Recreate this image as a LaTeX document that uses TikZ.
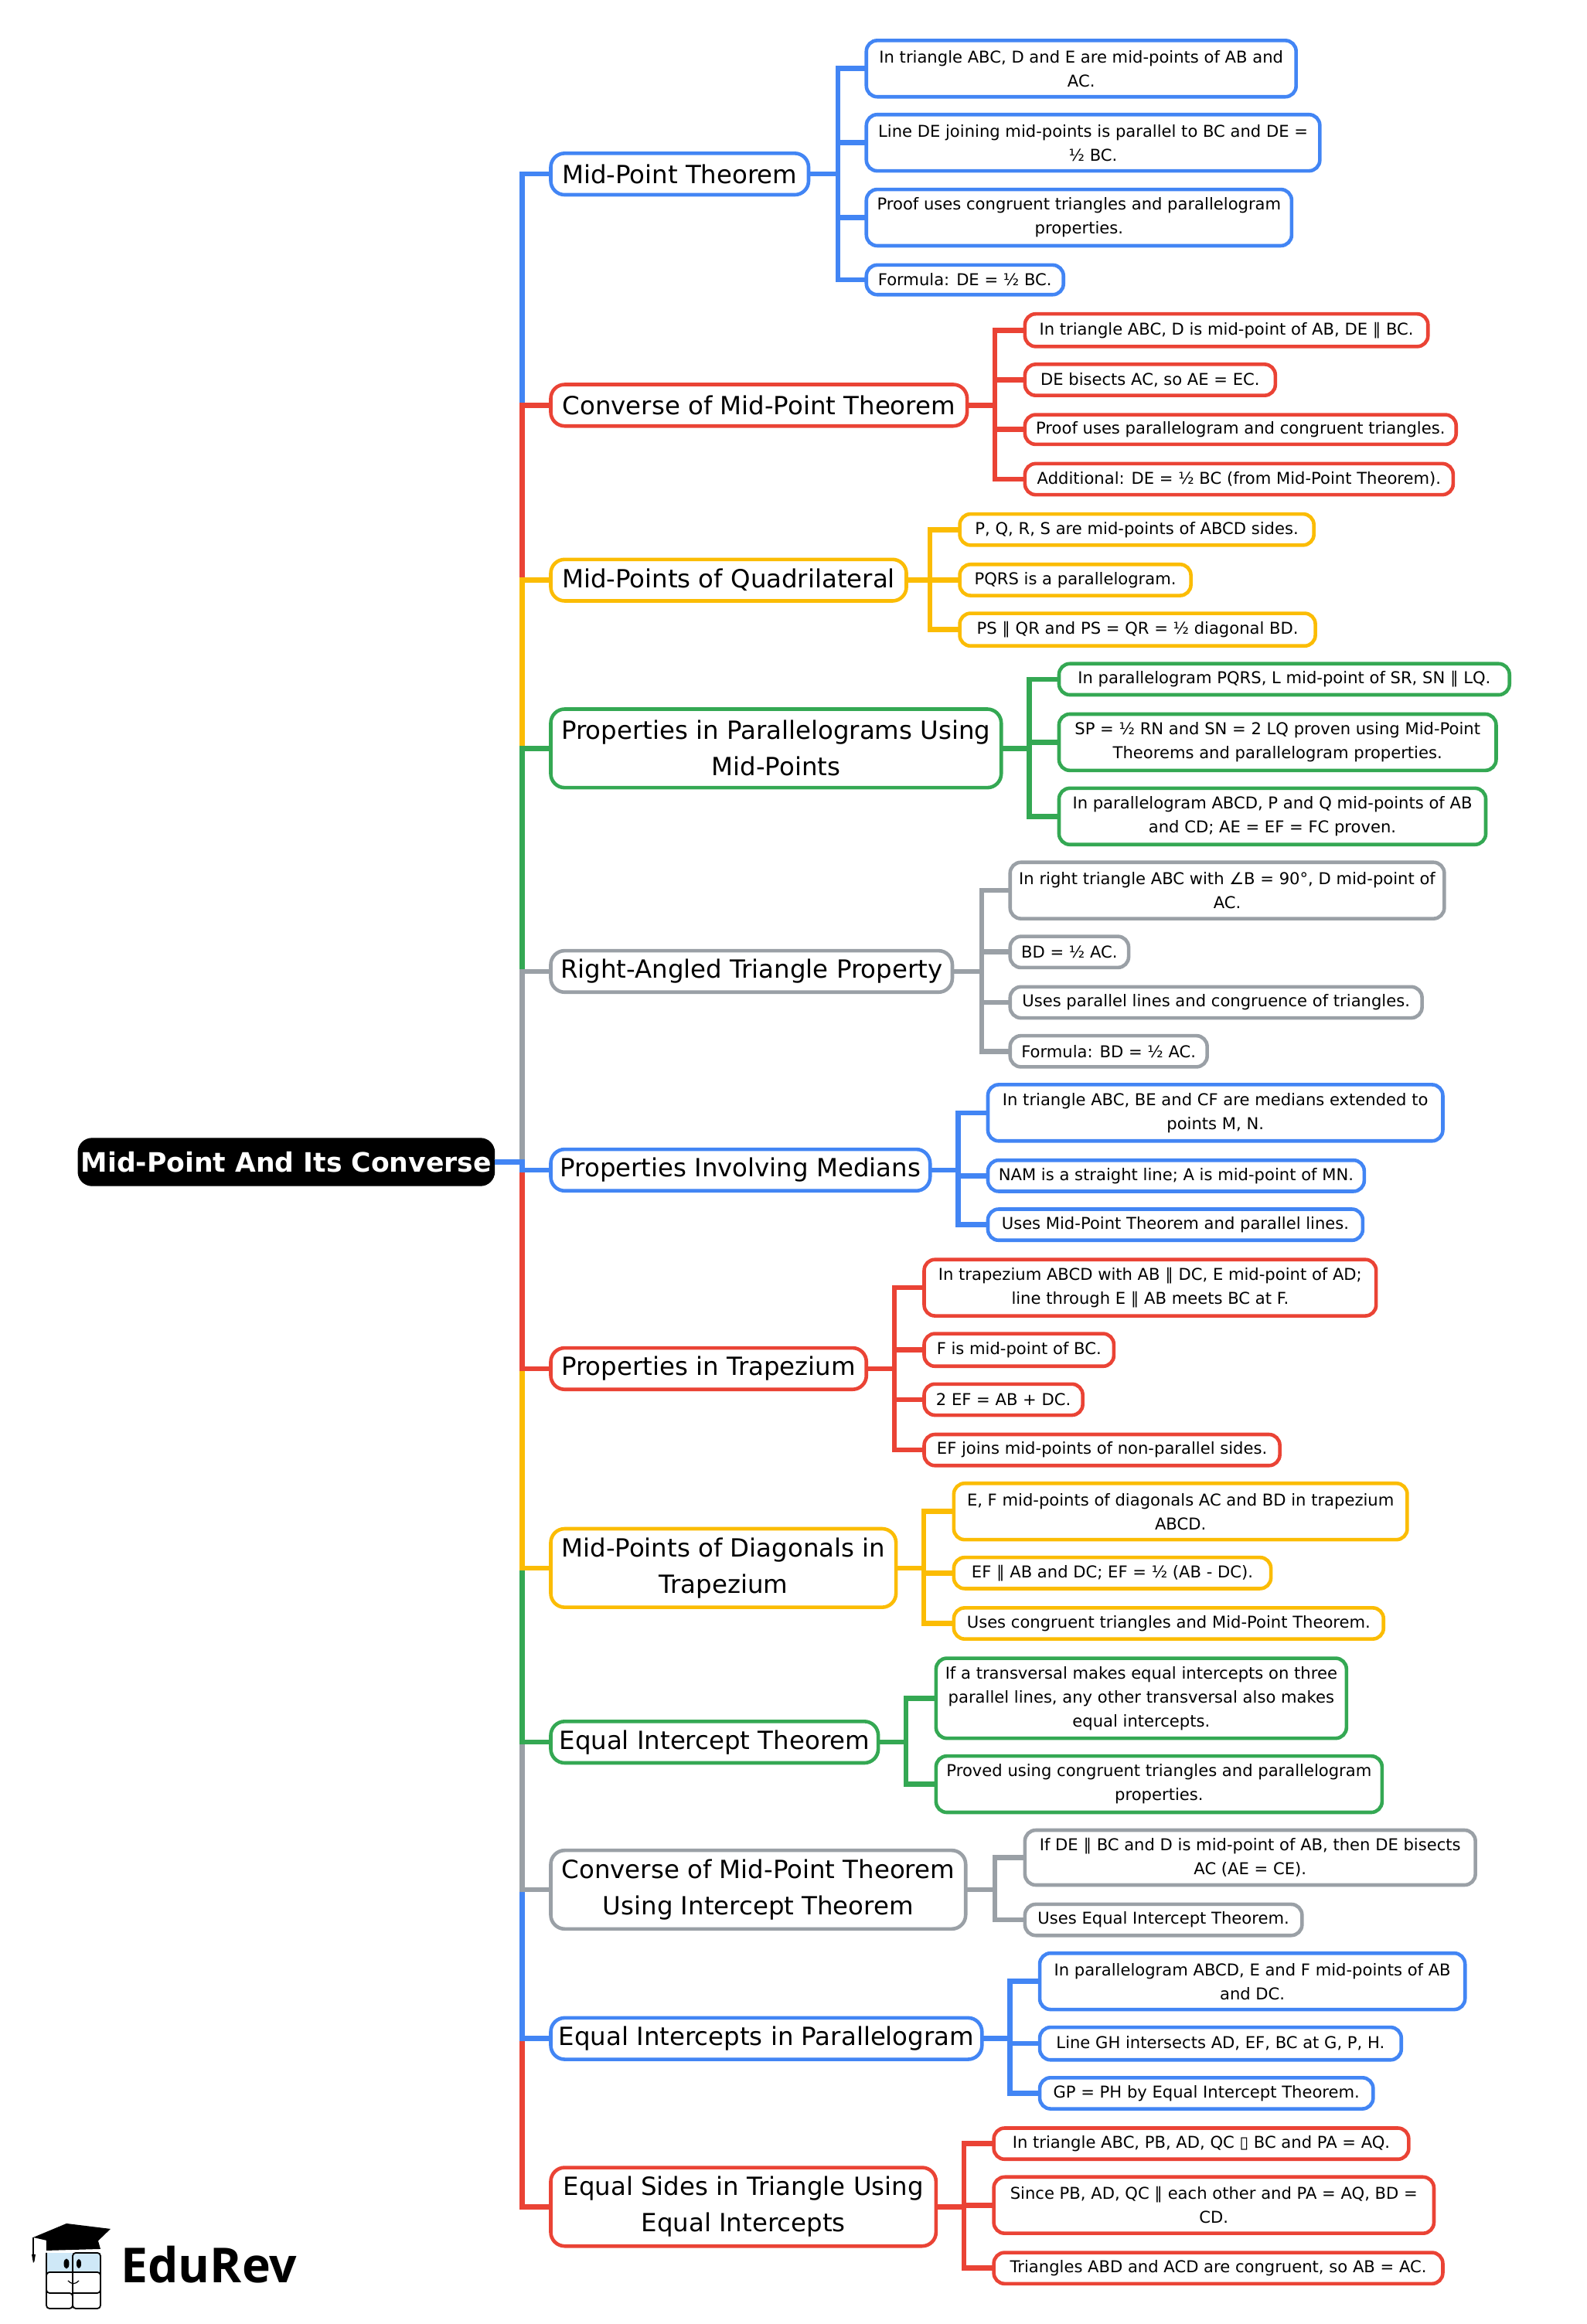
\documentclass[tikz,border=0pt]{standalone}
\usepackage{fontspec}
\setmainfont{DejaVu Sans}
\newfontfamily\logofont{Open Sans}
\definecolor{cblue}{HTML}{4285F4}
\definecolor{cred}{HTML}{EA4335}
\definecolor{cyellow}{HTML}{FBBC04}
\definecolor{cgreen}{HTML}{34A853}
\definecolor{cgray}{HTML}{9AA0A6}
\definecolor{glass}{HTML}{CFE8F7}
\tikzset{
  x=0.95845pt,y=-0.9589pt,
  boxbase/.style={draw,rounded corners=9pt,align=center,inner sep=0pt,outer sep=0pt,text=black,fill=white},
  rootbox/.style={boxbase,fill=black,draw=black,line width=0.5pt,text=white,font=\fontsize{17.3}{23}\selectfont\bfseries},
  branchbox/.style={boxbase,line width=2.3pt,yshift=-0.6pt,font=\fontsize{16.2}{23.5}\selectfont},
  leafbox/.style={boxbase,line width=2.3pt,font=\fontsize{10.55}{15.5}\selectfont,rounded corners=7pt},
  conn/.style={line width=3.3pt,miter limit=10},
}
\newcommand\bx[7]{\node[#2,minimum width={(#5-#3)*0.95845pt},minimum height={(#6-#4)*0.9589pt}] (#1) at ({(#3+#5)/2+0.7},{(#4+#6)/2+0.8}) {#7};}
\newcommand\kids[4]{\coordinate (e#2) at (#3+0.5,0);\foreach \k in {#4}{\draw[conn,draw=#1] (#2.east) -- (#2.east -| e#2) |- (\k.west);}}
\begin{document}
\begin{tikzpicture}
\useasboundingbox (0,0) rectangle (1071,1568);
\bx{root}{rootbox}{52}{767.2}{333}{799.2}{Mid-Point And Its Converse}
\bx{b1}{branchbox,draw=cblue}{371}{102}{545}{130}{Mid-Point Theorem}
\bx{a1}{leafbox,draw=cblue}{584}{26.5}{874}{64.5}{In triangle ABC, D and E are mid-points of AB and\\AC.}
\bx{a2}{leafbox,draw=cblue}{584}{76.5}{890}{114.5}{Line DE joining mid-points is parallel to BC and DE =\\½ BC.}
\bx{a3}{leafbox,draw=cblue}{584}{127}{871}{165}{Proof uses congruent triangles and parallelogram\\properties.}
\bx{a4}{leafbox,draw=cblue}{584}{178}{717}{198}{Formula: DE = ½ BC.}
\bx{b2}{branchbox,draw=cred}{371}{258}{652}{286}{Converse of Mid-Point Theorem}
\bx{c1}{leafbox,draw=cred}{691}{211}{963}{233}{In triangle ABC, D is mid-point of AB, DE ∥ BC.}
\bx{c2}{leafbox,draw=cred}{691}{245}{860}{266}{DE bisects AC, so AE = EC.}
\bx{c3}{leafbox,draw=cred}{691}{279}{982}{299}{Proof uses parallelogram and congruent triangles.}
\bx{c4}{leafbox,draw=cred}{691}{312}{980}{333}{Additional: DE = ½ BC (from Mid-Point Theorem).}
\bx{b3}{branchbox,draw=cyellow}{371}{376}{611}{404}{Mid-Points of Quadrilateral}
\bx{d1}{leafbox,draw=cyellow}{647}{346}{886}{367}{P, Q, R, S are mid-points of ABCD sides.}
\bx{d2}{leafbox,draw=cyellow}{647}{380}{803}{401}{PQRS is a parallelogram.}
\bx{d3}{leafbox,draw=cyellow}{647}{413}{887}{435}{PS ∥ QR and PS = QR = ½ diagonal BD.}
\bx{b4}{branchbox,draw=cgreen}{371}{477}{675}{530}{Properties in Parallelograms Using\\Mid-Points}
\bx{f1}{leafbox,draw=cgreen}{714}{447}{1018}{468}{In parallelogram PQRS, L mid-point of SR, SN ∥ LQ.}
\bx{f2}{leafbox,draw=cgreen}{714}{481}{1009}{519}{SP = ½ RN and SN = 2 LQ proven using Mid-Point\\Theorems and parallelogram properties.}
\bx{f3}{leafbox,draw=cgreen}{714}{531}{1002}{569}{In parallelogram ABCD, P and Q mid-points of AB\\and CD; AE = EF = FC proven.}
\bx{b5}{branchbox,draw=cgray}{371}{640}{642}{668}{Right-Angled Triangle Property}
\bx{g1}{leafbox,draw=cgray}{681}{581}{974}{619}{In right triangle ABC with ∠B = 90°, D mid-point of\\AC.}
\bx{g2}{leafbox,draw=cgray}{681}{631}{761}{652}{BD = ½ AC.}
\bx{g3}{leafbox,draw=cgray}{681}{665}{959}{686}{Uses parallel lines and congruence of triangles.}
\bx{g4}{leafbox,draw=cgray}{681}{698}{814}{719}{Formula: BD = ½ AC.}
\bx{b6}{branchbox,draw=cblue}{371}{774}{627}{802}{Properties Involving Medians}
\bx{h1}{leafbox,draw=cblue}{666}{731}{973}{769}{In triangle ABC, BE and CF are medians extended to\\points M, N.}
\bx{h2}{leafbox,draw=cblue}{666}{782}{920}{803}{NAM is a straight line; A is mid-point of MN.}
\bx{h3}{leafbox,draw=cblue}{666}{815}{919}{836}{Uses Mid-Point Theorem and parallel lines.}
\bx{b7}{branchbox,draw=cred}{371}{908}{584}{936}{Properties in Trapezium}
\bx{i1}{leafbox,draw=cred}{623}{849}{928}{887}{In trapezium ABCD with AB ∥ DC, E mid-point of AD;\\line through E ∥ AB meets BC at F.}
\bx{i2}{leafbox,draw=cred}{623}{899}{751}{921}{F is mid-point of BC.}
\bx{i3}{leafbox,draw=cred}{623}{933}{730}{954}{2 EF = AB + DC.}
\bx{i4}{leafbox,draw=cred}{623}{967}{863}{988}{EF joins mid-points of non-parallel sides.}
\bx{b8}{branchbox,draw=cyellow}{371}{1030}{604}{1083}{Mid-Points of Diagonals in\\Trapezium}
\bx{j1}{leafbox,draw=cyellow}{643}{1000}{949}{1038}{E, F mid-points of diagonals AC and BD in trapezium\\ABCD.}
\bx{j2}{leafbox,draw=cyellow}{643}{1050}{857}{1071}{EF ∥ AB and DC; EF = ½ (AB - DC).}
\bx{j3}{leafbox,draw=cyellow}{643}{1084}{933}{1105}{Uses congruent triangles and Mid-Point Theorem.}
\bx{b9}{branchbox,draw=cgreen}{371}{1160}{592}{1188}{Equal Intercept Theorem}
\bx{m1}{leafbox,draw=cgreen}{631}{1118}{908}{1172}{If a transversal makes equal intercepts on three\\parallel lines, any other transversal also makes\\equal intercepts.}
\bx{m2}{leafbox,draw=cgreen}{631}{1184}{932}{1222}{Proved using congruent triangles and parallelogram\\properties.}
\bx{b10}{branchbox,draw=cgray}{371}{1247}{651}{1300}{Converse of Mid-Point Theorem\\Using Intercept Theorem}
\bx{n1}{leafbox,draw=cgray}{691}{1234}{995}{1271}{If DE ∥ BC and D is mid-point of AB, then DE bisects\\AC (AE = CE).}
\bx{n2}{leafbox,draw=cgray}{691}{1284}{878}{1305}{Uses Equal Intercept Theorem.}
\bx{b11}{branchbox,draw=cblue}{371}{1360}{662}{1388}{Equal Intercepts in Parallelogram}
\bx{p1}{leafbox,draw=cblue}{701}{1317}{988}{1355}{In parallelogram ABCD, E and F mid-points of AB\\and DC.}
\bx{p2}{leafbox,draw=cblue}{701}{1367}{945}{1389}{Line GH intersects AD, EF, BC at G, P, H.}
\bx{p3}{leafbox,draw=cblue}{701}{1401}{926}{1422}{GP = PH by Equal Intercept Theorem.}
\bx{b12}{branchbox,draw=cred}{371}{1461}{631}{1514}{Equal Sides in Triangle Using\\Equal Intercepts}
\bx{q1}{leafbox,draw=cred}{670}{1435}{950}{1456}{In triangle ABC, PB, AD, QC ▯ BC and PA = AQ.}
\bx{q2}{leafbox,draw=cred}{670}{1468}{967}{1506}{Since PB, AD, QC ∥ each other and PA = AQ, BD =\\CD.}
\bx{q3}{leafbox,draw=cred}{670}{1519}{973}{1540}{Triangles ABD and ACD are congruent, so AB = AC.}
\coordinate (spine) at (352.5,0);
\foreach \t/\c in {b1/cblue,b2/cred,b3/cyellow,b4/cgreen,b5/cgray,b12/cred,b11/cblue,b10/cgray,b9/cgreen,b8/cyellow,b7/cred,b6/cblue}{
  \draw[conn,draw=\c] (root.east) -- (root.east -| spine) |- (\t.west);
}
\kids{cblue}{b1}{565}{a1,a2,a3,a4}
\kids{cred}{b2}{671}{c1,c2,c3,c4}
\kids{cyellow}{b3}{627}{d1,d2,d3}
\kids{cgreen}{b4}{694}{f1,f2,f3}
\kids{cgray}{b5}{662}{g1,g2,g3,g4}
\kids{cblue}{b6}{646}{h1,h2,h3}
\kids{cred}{b7}{603}{i1,i2,i3,i4}
\kids{cyellow}{b8}{623}{j1,j2,j3}
\kids{cgreen}{b9}{611}{m1,m2}
\kids{cgray}{b10}{671}{n1,n2}
\kids{cblue}{b11}{681}{p1,p2,p3}
\kids{cred}{b12}{650}{q1,q2,q3}
\begin{scope}[x=0.5pt,y=-0.5pt]
\fill[glass] (60,2915) rectangle (130,2940);
\draw[black,line width=0.9pt,rounded corners=2pt] (60,2915) -- (60,2967) -- (94,2967) -- (94,2987) -- (60,2987) -- (60,2940) -- (130,2940) -- (130,2987) -- (94,2987) -- (94,2915) -- (130,2915) -- (130,2967) -- (94,2967);
\fill[black] (60,2896) -- (126,2896) -- (130,2910) -- (60,2912) -- cycle;
\fill[black] (43,2895) -- (86,2877) -- (143,2884) -- (118,2908) -- (100,2908) -- cycle;
\draw[black,line width=0.8pt] (43,2895) -- (43,2917);
\fill[black] (41,2917) -- (46,2917) -- (44.5,2926) -- (43,2928) -- cycle;
\fill[black] (86,2929) ellipse (3.5 and 6.5);
\fill[black] (102,2929) ellipse (3 and 6);
\draw[black,line width=0.6pt] (88,2951) .. controls (93,2956) and (97,2956) .. (102,2951);
\node[inner sep=0pt,anchor=west,font=\logofont\fontsize{31.2}{32}\selectfont\bfseries] (logo) at (156,2930) {EduRev};
\end{scope}
\end{tikzpicture}
\end{document}
